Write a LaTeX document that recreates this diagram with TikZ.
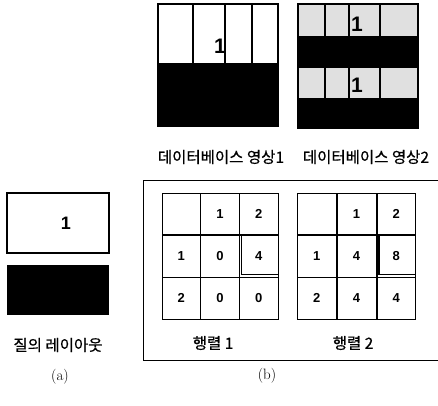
\documentclass[tikz,border=0pt]{standalone}
\usepackage{fontspec}
\setsansfont{Liberation Sans}
\newfontfamily\krfont{Noto Sans CJK KR}[FakeBold=0.6]
\usetikzlibrary{positioning}

\begin{document}
\begin{tikzpicture}[x=1pt, y=-1pt,
    cell/.style={draw, minimum width=38.7pt, minimum height=42pt, inner sep=0pt,
      font=\sffamily\bfseries\fontsize{13}{13}\selectfont},
    bignum/.style={font=\sffamily\bfseries\fontsize{21}{21}\selectfont, inner sep=0pt},
    krlbl/.style={font=\krfont\fontsize{15.5}{17}\selectfont, inner sep=0pt},
    sublbl/.style={font=\fontsize{15}{17}\selectfont, inner sep=0pt},
    frame/.style={line width=1.2pt}]

      \useasboundingbox (0,0) rectangle (438,405);

      % Imagem de base 1 (acima, esquerda)
      \fill[black] (158,63) rectangle (278,126);
      \draw[frame] (158,4) rectangle (278,126);
      \foreach \xx in {193,225,252}
        \draw[frame] (\xx,4) -- (\xx,63);
      \node[bignum] (db1-one) at (220,46) {1};

      % Imagem de base 2 (acima, direita)
      \fill[black!12] (298,4) rectangle (418,128);
      \fill[black] (298,36) rectangle (418,68);
      \fill[black] (298,98) rectangle (418,128);
      \draw[frame] (298,4) rectangle (418,128);
      \foreach \xx in {325,349,380} {
        \draw[frame] (\xx,4) -- (\xx,36);
        \draw[frame] (\xx,68) -- (\xx,98);
      }
      \node[bignum] (db2-one) at (357,24) {1};
      \node[bignum] (db2-two) at (357,85) {1};

      % Legenda das imagens
      \node[krlbl] (cap1) at (221,157) {데이터베이스 영상1};
      \node[krlbl] (cap2) at (366,157) {데이터베이스 영상2};

      % Layout da consulta (a)
      \draw[frame] (7,193) rectangle (109,253);
      \node[font=\sffamily\bfseries\fontsize{18}{18}\selectfont, inner sep=0pt] (q-one) at (66,223) {1};
      \fill[black] (7,265) rectangle (109,315);
      \node[krlbl] (qlbl) at (58,345) {질의 레이아웃};
      \node[sublbl] (lbla) at (60,377) {(a)};

      % Moldura (b)
      \draw (445,180) -| (143,360) -- (445,360);

      % Matriz 1
      \foreach \v [count=\i from 0] in {{},1,2,1,0,4,2,0,0} {
        \pgfmathtruncatemacro\rr{\i/3+1}
        \pgfmathtruncatemacro\cc{mod(\i,3)+1}
        \node[cell] (m1-\rr-\cc) at ({162+38.67*(\cc-0.5)},{193+42*(\rr-0.5)}) {\v};
      }
      \draw[line width=2.2pt] (m1-1-1.south west) -- (m1-1-3.south east);
      \draw[line width=1.3pt] ([xshift=2.5pt]m1-2-3.north west) |- ([yshift=2.5pt]m1-2-3.south east);
      \node[krlbl] (mat1) at (213,343) {행렬 1};

      % Matriz 2
      \foreach \v [count=\i from 0] in {{},1,2,1,4,8,2,4,4} {
        \pgfmathtruncatemacro\rr{\i/3+1}
        \pgfmathtruncatemacro\cc{mod(\i,3)+1}
        \node[cell] (m2-\rr-\cc) at ({297+39.67*(\cc-0.5)},{193+42*(\rr-0.5)}) {\v};
      }
      \draw[line width=2.2pt] (m2-1-1.south west) -- (m2-1-3.south east);
      \draw[line width=1.3pt] ([xshift=2.5pt]m2-2-3.north west) |- ([yshift=2.5pt]m2-2-3.south east);
      \node[krlbl] (mat2) at (353,343) {행렬 2};

      \node[sublbl] (lblb) at (267,376) {(b)};

    \end{tikzpicture}
\end{document}
